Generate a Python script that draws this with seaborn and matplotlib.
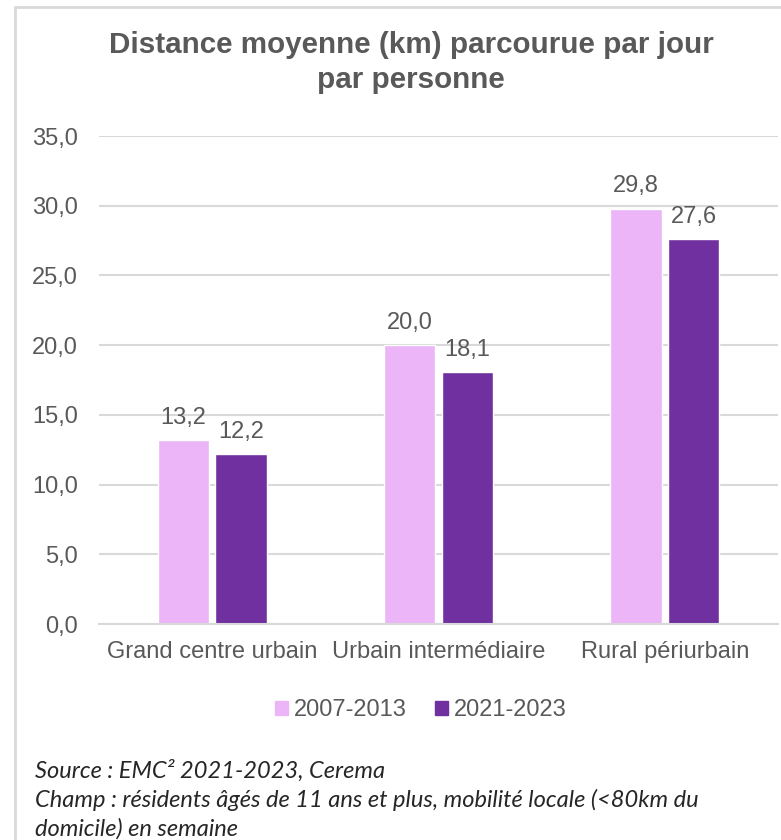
import matplotlib
matplotlib.use("Agg")
import matplotlib.pyplot as plt
import seaborn as sns
import pandas as pd
from matplotlib.patches import Rectangle

categories = ["Grand centre urbain", "Urbain intermédiaire", "Rural périurbain"]
series = ["2007-2013", "2021-2023"]
values_2007_2013 = [13.2, 20.0, 29.8]
values_2021_2023 = [12.2, 18.1, 27.6]
yticks = [0, 5, 10, 15, 20, 25, 30, 35]

df = pd.DataFrame({
    "cat": categories * 2,
    "period": [series[0]] * 3 + [series[1]] * 3,
    "val": values_2007_2013 + values_2021_2023,
})

sns.set_theme(style="white")
plt.rcParams["font.family"] = ["Liberation Sans", "DejaVu Sans"]
gray = "#595959"
colors = ["#EBB5F7", "#7030A0"]
fs = 17

fig = plt.figure(figsize=(7.81, 8.40), dpi=100)
ax = fig.add_axes([99 / 781, 1 - 624 / 840, (778 - 99) / 781, (624 - 136) / 840])

sns.barplot(data=df, x="cat", y="val", hue="period", palette=colors,
            width=0.51, gap=0.11, ax=ax, legend=False, saturation=1)

ax.set_ylim(0, 35)
ax.set_xlim(-0.5, 2.5)
ax.set_yticks(yticks)
ax.set_yticklabels([f"{v:.1f}".replace(".", ",") for v in yticks], fontsize=fs, color=gray)
ax.set_xticks(range(3))
ax.set_xticklabels(categories, fontsize=fs, color=gray)
ax.tick_params(axis="x", length=0, pad=12)
ax.tick_params(axis="y", length=0, pad=15)
ax.set_xlabel("")
ax.set_ylabel("")
ax.grid(axis="y", color="#D9D9D9", linewidth=1.5)
ax.set_axisbelow(True)
for s in ["top", "right", "left"]:
    ax.spines[s].set_visible(False)
ax.spines["bottom"].set_color("#D9D9D9")
ax.spines["bottom"].set_linewidth(1.5)

for cont in ax.containers:
    ax.bar_label(cont, labels=[f"{v:.1f}".replace(".", ",") for v in cont.datavalues],
                 fontsize=fs, color=gray, padding=8)

fig.text(411 / 781, 1 - 53 / 840, "Distance moyenne (km) parcourue par jour",
         ha="center", va="baseline", fontsize=21.3, fontweight="bold", color=gray)
fig.text(411 / 781, 1 - 88 / 840, "par personne",
         ha="center", va="baseline", fontsize=21.3, fontweight="bold", color=gray)

handles = [Rectangle((0, 0), 1, 1, color=c) for c in colors]
fig.legend(handles, series, loc="center", bbox_to_anchor=(421 / 781, 1 - 710 / 840),
           ncol=2, frameon=False, fontsize=fs, labelcolor=gray, handlelength=0.55,
           handleheight=0.55, handletextpad=0.25, columnspacing=1.2)

foot = ["Source : EMC² 2021-2023, Cerema",
        "Champ : résidents âgés de 11 ans et plus, mobilité locale (<80km du",
        "domicile) en semaine"]
for i, t in enumerate(foot):
    fig.text(35 / 781, 1 - (771 + i * 29) / 840, t, ha="left", va="center",
             fontsize=17, style="italic", color="#262626", family=["Lato", "DejaVu Sans"])

fig.patches.append(Rectangle((15 / 781, -0.1), 1.2, 1 - 7 / 840 + 0.1,
                             transform=fig.transFigure, fill=False,
                             edgecolor="#D9D9D9", linewidth=2))

fig.savefig("out.png", dpi=100)
